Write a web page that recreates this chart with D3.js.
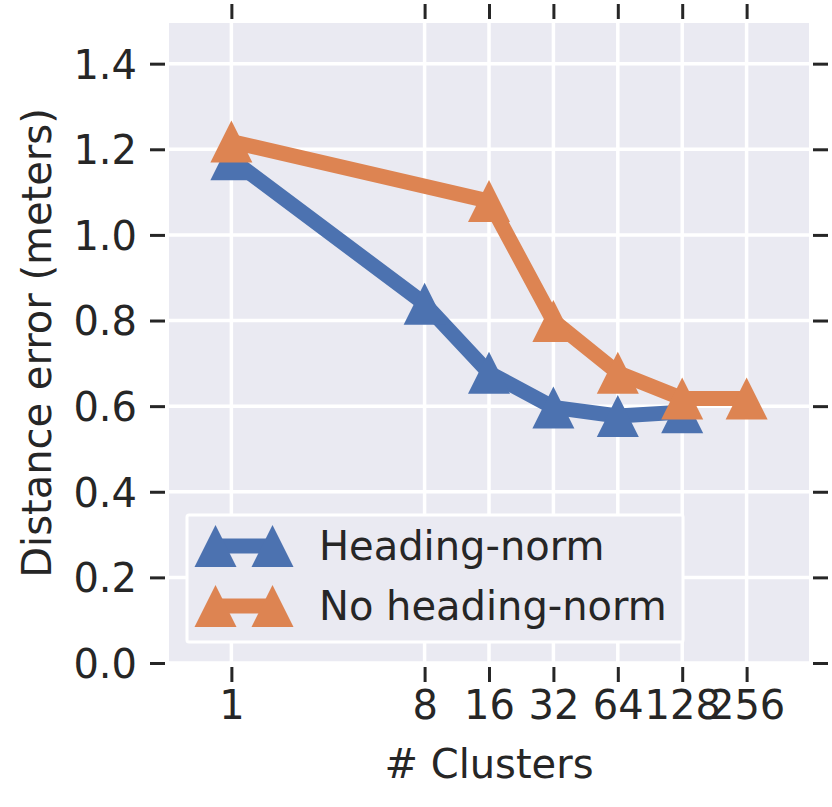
<!DOCTYPE html>
<html>
<head>
<meta charset="utf-8">
<script src="https://cdn.jsdelivr.net/npm/d3@7"></script>
<style>
  body { margin: 0; background: #fff; }
  text { font-family: "DejaVu Sans", sans-serif; fill: #262626; }
</style>
</head>
<body>
<div id="chart"></div>
<script>
// values
const clusterTicks = [1, 8, 16, 32, 64, 128, 256];
const yTicks = [0, 0.2, 0.4, 0.6, 0.8, 1.0, 1.2, 1.4];

const headingX = [1, 8, 16, 32, 64, 128];
const headingY = [1.177, 0.839, 0.678, 0.597, 0.577, 0.586];

const noHeadingX = [1, 16, 32, 64, 128, 256];
const noHeadingY = [1.218, 1.079, 0.799, 0.678, 0.618, 0.618];

const seriesNames = ['Heading-norm', 'No heading-norm'];
const seriesColors = ['#4C72B0', '#DD8452'];

const width = 832, height = 807;
const margin = { top: 23, right: 23, bottom: 144, left: 169 };
const fontSize = 40;

const svg = d3.select('#chart').append('svg')
  .attr('width', width)
  .attr('height', height);

const x = d3.scaleLog().base(2)
  .domain([0.511, 501])
  .range([margin.left, width - margin.right]);

const y = d3.scaleLinear()
  .domain([0, 1.495])
  .range([height - margin.bottom, margin.top]);

const x0 = x.range()[0], x1 = x.range()[1];
const y0 = y.range()[0], y1 = y.range()[1];

// plot background
svg.append('rect')
  .attr('x', x0).attr('y', y1)
  .attr('width', x1 - x0).attr('height', y0 - y1)
  .attr('fill', '#EAEAF2');

// grid
const grid = svg.append('g');
grid.selectAll('.vgrid').data(clusterTicks).enter().append('line')
  .attr('x1', d => x(d)).attr('x2', d => x(d))
  .attr('y1', y1).attr('y2', y0)
  .attr('stroke', '#fff').attr('stroke-width', 3.5);
grid.selectAll('.hgrid').data(yTicks).enter().append('line')
  .attr('x1', x0).attr('x2', x1)
  .attr('y1', d => y(d)).attr('y2', d => y(d))
  .attr('stroke', '#fff').attr('stroke-width', 3.5);

// axes with offset ticks on all four sides
const tickLen = 15, tickGap = 4;
const fmt = d3.format('.1f');

const bottomAxis = svg.append('g')
  .attr('transform', `translate(0,${y0 + tickGap})`)
  .call(d3.axisBottom(x).tickValues(clusterTicks).tickFormat(d3.format('d'))
    .tickSize(tickLen).tickPadding(9));
const topAxis = svg.append('g')
  .attr('transform', `translate(0,${y1 - tickGap})`)
  .call(d3.axisTop(x).tickValues(clusterTicks).tickFormat('').tickSize(tickLen));
const leftAxis = svg.append('g')
  .attr('transform', `translate(${x0 - tickGap},0)`)
  .call(d3.axisLeft(y).tickValues(yTicks).tickFormat(fmt).tickSize(tickLen).tickPadding(13));
const rightAxis = svg.append('g')
  .attr('transform', `translate(${x1 + tickGap},0)`)
  .call(d3.axisRight(y).tickValues(yTicks).tickFormat('').tickSize(tickLen));

[bottomAxis, topAxis, leftAxis, rightAxis].forEach(g => {
  g.select('.domain').remove();
  g.selectAll('.tick line').attr('stroke', '#262626').attr('stroke-width', 3);
  g.selectAll('.tick text')
    .attr('font-family', '"DejaVu Sans", sans-serif')
    .attr('font-size', fontSize)
    .attr('fill', '#262626');
});
leftAxis.selectAll('.tick text').attr('dy', '0.36em');

// axis titles
svg.append('text')
  .attr('x', (x0 + x1) / 2).attr('y', 778)
  .attr('text-anchor', 'middle')
  .attr('font-size', fontSize)
  .text('# Clusters');

svg.append('text')
  .attr('transform', `translate(51,${(y0 + y1) / 2}) rotate(-90)`)
  .attr('text-anchor', 'middle')
  .attr('font-size', fontSize)
  .text('Distance error (meters)');

// series
const tri = 21;
const triPath = `M0,${-tri}L${tri},${tri}L${-tri},${tri}Z`;
const lineWidth = 15;

const line = d3.line().x(d => x(d[0])).y(d => y(d[1]));

const series = [
  d3.zip(headingX, headingY),
  d3.zip(noHeadingX, noHeadingY)
];

series.forEach((pts, i) => {
  const g = svg.append('g');
  g.append('path')
    .attr('d', line(pts))
    .attr('fill', 'none')
    .attr('stroke', seriesColors[i])
    .attr('stroke-width', lineWidth)
    .attr('stroke-linejoin', 'round');
  g.selectAll('.marker').data(pts).enter().append('path')
    .attr('d', triPath)
    .attr('transform', d => `translate(${x(d[0])},${y(d[1])})`)
    .attr('fill', seriesColors[i]);
});

// legend
const legend = svg.append('g');
legend.append('rect')
  .attr('x', 187).attr('y', 515)
  .attr('width', 496).attr('height', 127)
  .attr('rx', 2)
  .attr('fill', '#EAEAF2')
  .attr('stroke', '#fff')
  .attr('stroke-width', 3);

seriesNames.forEach((name, i) => {
  const cy = 546 + i * 60;
  const row = legend.append('g');
  row.append('line')
    .attr('x1', 215.5).attr('x2', 272.5)
    .attr('y1', cy).attr('y2', cy)
    .attr('stroke', seriesColors[i])
    .attr('stroke-width', lineWidth);
  [215.5, 272.5].forEach(cx => {
    row.append('path')
      .attr('d', triPath)
      .attr('transform', `translate(${cx},${cy})`)
      .attr('fill', seriesColors[i]);
  });
  row.append('text')
    .attr('x', 319).attr('y', cy + 14)
    .attr('font-size', fontSize)
    .text(name);
});
</script>
</body>
</html>
